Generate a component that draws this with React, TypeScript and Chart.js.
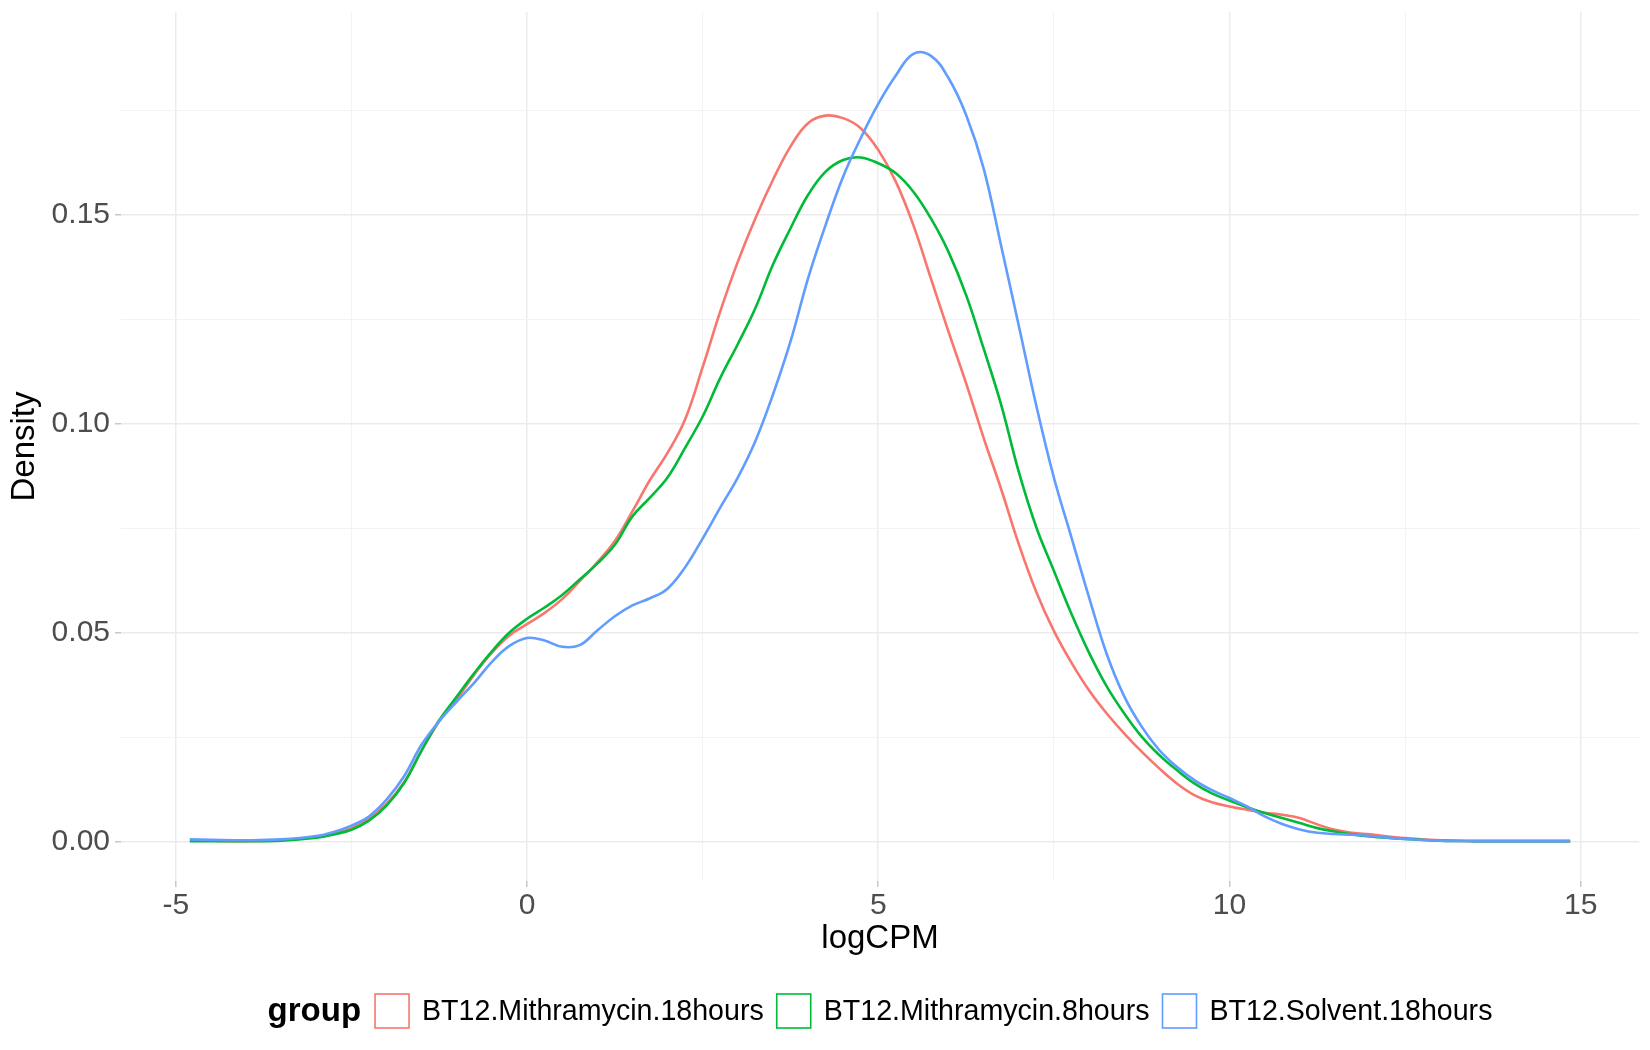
import React, { useEffect, useRef } from 'react';
import { Chart, registerables } from 'chart.js';

Chart.register(...registerables);

const logCPM = [
  -4.8, -4.5, -4.0, -3.5, -3.0, -2.75, -2.5, -2.25, -2.0, -1.75,
  -1.5, -1.25, -1.0, -0.75, -0.5, -0.25, 0, 0.25, 0.5, 0.75,
  1.0, 1.25, 1.5, 1.75, 2.0, 2.25, 2.5, 2.75, 3.0, 3.25,
  3.5, 3.75, 4.0, 4.25, 4.5, 4.75, 5.0, 5.25, 5.5, 5.75,
  6.0, 6.25, 6.5, 6.75, 7.0, 7.25, 7.5, 7.75, 8.0, 8.25,
  8.5, 8.75, 9.0, 9.25, 9.5, 9.75, 10.0, 10.25, 10.5, 10.75,
  11.0, 11.25, 11.5, 11.75, 12.0, 12.5, 13.0, 13.5, 14.0, 14.5,
  14.85,
];

const mithramycin18h = [
  0.0003, 0.0002, 0.0001, 0.0003, 0.0011, 0.0019, 0.0032, 0.0054, 0.0090, 0.0142,
  0.0218, 0.0288, 0.0340, 0.0400, 0.0452, 0.0493, 0.0520, 0.0547, 0.0580, 0.0623,
  0.0668, 0.0719, 0.0790, 0.0865, 0.0930, 0.1010, 0.1135, 0.1268, 0.1387, 0.1491,
  0.1583, 0.1663, 0.1719, 0.1737, 0.1731, 0.1707, 0.1655, 0.1579, 0.1475, 0.1347,
  0.1220, 0.1097, 0.0966, 0.0843, 0.0712, 0.0597, 0.0504, 0.0428, 0.0362, 0.0307,
  0.0259, 0.0215, 0.0175, 0.0139, 0.0111, 0.0094, 0.0084, 0.0076, 0.0069, 0.0064,
  0.0056, 0.0041, 0.0028, 0.0021, 0.0017, 0.0008, 0.0003, 0.0001, 0.0001, 0.0001,
  0.0001,
];

const mithramycin8h = [
  0.0001, 0.0001, 0.0001, 0.0002, 0.0009, 0.0017, 0.0028, 0.0050, 0.0086, 0.0140,
  0.0218, 0.0290, 0.0347, 0.0403, 0.0455, 0.0500, 0.0533, 0.0560, 0.0590, 0.0627,
  0.0665, 0.0710, 0.0778, 0.0823, 0.0871, 0.0942, 0.1017, 0.1109, 0.1190, 0.1276,
  0.1380, 0.1467, 0.1547, 0.1603, 0.1631, 0.1637, 0.1623, 0.1599, 0.1555, 0.1491,
  0.1411, 0.1308, 0.1180, 0.1045, 0.0885, 0.0752, 0.0648, 0.0545, 0.0452, 0.0372,
  0.0307, 0.0251, 0.0207, 0.0171, 0.0139, 0.0115, 0.0098, 0.0082, 0.0068, 0.0056,
  0.0044, 0.0032, 0.0024, 0.0017, 0.0012, 0.0006, 0.0002, 0.0001, 0.0001, 0.0001,
  0.0001,
];

const solvent18h = [
  0.0005, 0.0004, 0.0003, 0.0005, 0.0013, 0.0023, 0.0038, 0.0060, 0.0100, 0.0156,
  0.0232, 0.0288, 0.0335, 0.0380, 0.0430, 0.0468, 0.0487, 0.0481, 0.0466, 0.0470,
  0.0505, 0.0539, 0.0565, 0.0582, 0.0605, 0.0656, 0.0725, 0.0799, 0.0871, 0.0958,
  0.1069, 0.1196, 0.1347, 0.1475, 0.1591, 0.1683, 0.1765, 0.1833, 0.1885, 0.1880,
  0.1827, 0.1739, 0.1611, 0.1425, 0.1235, 0.1043, 0.0871, 0.0728, 0.0585, 0.0450,
  0.0348, 0.0275, 0.0219, 0.0179, 0.0147, 0.0123, 0.0104, 0.0084, 0.0060, 0.0042,
  0.0029, 0.0021, 0.0018, 0.0016, 0.0013, 0.0006, 0.0002, 0.0001, 0.0001, 0.0001,
  0.0001,
];

const groupNames = ['BT12.Mithramycin.18hours', 'BT12.Mithramycin.8hours', 'BT12.Solvent.18hours'];
const groupColors = ['#F8766D', '#00BA38', '#619CFF'];

const xTickValues = [-5, -2.5, 0, 2.5, 5, 7.5, 10, 12.5, 15];
const yTickValues = [0, 0.025, 0.05, 0.075, 0.1, 0.125, 0.15, 0.175];

const FONT = '"Liberation Sans", Arial, Helvetica, sans-serif';

const isMajorX = (v: number) => Math.abs(v % 5) < 1e-9;
const isMajorY = (v: number) => Math.round(v * 1000) % 50 === 0;

// ggplot-style legend: bold title on the left, outlined keys, all on one row
const groupLegend = {
  id: 'groupLegend',
  afterDraw(chart: any) {
    const { ctx, chartArea } = chart;
    const cy = chart.height - 39;
    const box = 34;
    const titleGap = 14;
    const textGap = 13;
    const itemGap = 13;
    const titleFont = `bold 33px ${FONT}`;
    const itemFont = `28.6px ${FONT}`;

    ctx.save();
    ctx.textBaseline = 'middle';
    ctx.textAlign = 'left';
    ctx.font = titleFont;
    const titleW = ctx.measureText('group').width;
    ctx.font = itemFont;
    const items = chart.data.datasets.map((ds: any) => ({
      label: ds.label,
      color: ds.borderColor,
      w: ctx.measureText(ds.label).width,
    }));

    let total = titleW + titleGap;
    items.forEach((it: any, i: number) => {
      total += box + textGap + it.w + (i < items.length - 1 ? itemGap : 0);
    });

    let x = (chartArea.left + chartArea.right) / 2 - total / 2;
    ctx.fillStyle = '#000';
    ctx.font = titleFont;
    ctx.fillText('group', x, cy + 1);
    x += titleW + titleGap;

    ctx.font = itemFont;
    items.forEach((it: any) => {
      ctx.strokeStyle = it.color;
      ctx.lineWidth = 1.6;
      ctx.strokeRect(x, cy - box / 2, box, box);
      x += box + textGap;
      ctx.fillStyle = '#000';
      ctx.fillText(it.label, x, cy + 1);
      x += it.w + itemGap;
    });
    ctx.restore();
  },
};

const DensityChart: React.FC = () => {
  const canvasRef = useRef<HTMLCanvasElement>(null);
  const chartRef = useRef<Chart | null>(null);

  useEffect(() => {
    if (!canvasRef.current) return;
    if (chartRef.current) chartRef.current.destroy();

    const series = [mithramycin18h, mithramycin8h, solvent18h];

    chartRef.current = new Chart(canvasRef.current, {
      type: 'line',
      data: {
        datasets: series.map((values, i) => ({
          label: groupNames[i],
          data: logCPM.map((x, j) => ({ x, y: values[j] })),
          borderColor: groupColors[i],
          backgroundColor: groupColors[i],
          borderWidth: 2.6,
          pointRadius: 0,
          fill: false,
          tension: 0.4,
          // ggplot draws later groups on top
          order: series.length - 1 - i,
        })),
      },
      plugins: [groupLegend],
      options: {
        animation: false,
        responsive: true,
        maintainAspectRatio: false,
        layout: { padding: { left: 0, right: 11, top: 12, bottom: 84 } },
        plugins: {
          legend: { display: false },
          tooltip: { enabled: false },
        },
        scales: {
          x: {
            type: 'linear',
            min: -5.78,
            max: 15.83,
            afterBuildTicks: (s: any) => {
              s.ticks = xTickValues.map((value) => ({ value }));
            },
            afterFit: (s: any) => {
              s.height = 85;
              s.paddingLeft = 0;
              s.paddingRight = 0;
            },
            border: { display: false },
            grid: {
              color: (c: any) => (c.tick && isMajorX(c.tick.value) ? '#EBEBEB' : '#F3F3F3'),
              lineWidth: (c: any) => (c.tick && isMajorX(c.tick.value) ? 1.5 : 1),
              tickLength: 6,
              tickColor: (c: any) => (c.tick && isMajorX(c.tick.value) ? '#C8C8C8' : 'rgba(0,0,0,0)'),
            },
            ticks: {
              autoSkip: false,
              maxRotation: 0,
              padding: 4,
              color: '#4D4D4D',
              font: { family: FONT, size: 30, lineHeight: 1 },
              callback: (v: any) => (isMajorX(Number(v)) ? String(v) : ''),
            },
            title: {
              display: true,
              text: 'logCPM',
              color: '#000',
              font: { family: FONT, size: 33, lineHeight: 1.2 },
              padding: { top: 0, bottom: 7 },
            },
          },
          y: {
            type: 'linear',
            min: -0.00945,
            max: 0.1985,
            afterBuildTicks: (s: any) => {
              s.ticks = yTickValues.map((value) => ({ value }));
            },
            afterFit: (s: any) => {
              s.width = 121;
              s.paddingTop = 0;
              s.paddingBottom = 0;
            },
            border: { display: false },
            grid: {
              color: (c: any) => (c.tick && isMajorY(c.tick.value) ? '#EBEBEB' : '#F3F3F3'),
              lineWidth: (c: any) => (c.tick && isMajorY(c.tick.value) ? 1.5 : 1),
              tickLength: 6,
              tickColor: (c: any) => (c.tick && isMajorY(c.tick.value) ? '#C8C8C8' : 'rgba(0,0,0,0)'),
            },
            ticks: {
              autoSkip: false,
              padding: 5,
              color: '#4D4D4D',
              font: { family: FONT, size: 30, lineHeight: 1 },
              callback: (v: any) => (isMajorY(Number(v)) ? Number(v).toFixed(2) : ''),
            },
            title: {
              display: true,
              text: 'Density',
              color: '#000',
              font: { family: FONT, size: 33, lineHeight: 1.2 },
              padding: { top: 5, bottom: 0 },
            },
          },
        },
      },
    });

    return () => {
      if (chartRef.current) {
        chartRef.current.destroy();
        chartRef.current = null;
      }
    };
  }, []);

  return (
    <div style={{ position: 'absolute', left: 0, top: 0, width: 1650, height: 1050, background: '#fff' }}>
      <canvas ref={canvasRef}></canvas>
    </div>
  );
};

export default function App() {
  return <DensityChart />;
}
